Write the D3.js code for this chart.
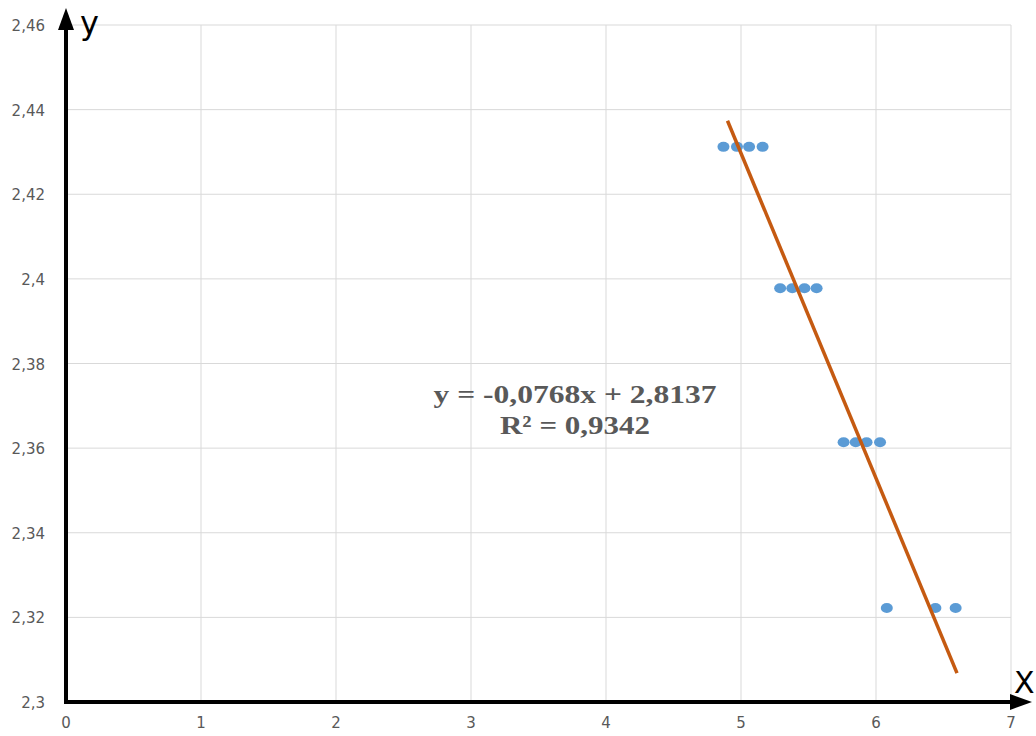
<!DOCTYPE html>
<html><head><meta charset="utf-8">
<script src="https://cdn.jsdelivr.net/npm/d3@7"></script>
<style>body{margin:0;background:#fff}svg{display:block}</style>
</head><body>
<svg id="c" width="1036" height="736"></svg>
<script>
const xVals = [4.87,4.97,5.06,5.16, 5.29,5.38,5.47,5.56, 5.76,5.85,5.93,6.03, 6.08,6.44,6.59];
const yVals = [2.4312,2.4312,2.4312,2.4312, 2.3978,2.3978,2.3978,2.3978, 2.3614,2.3614,2.3614,2.3614, 2.3222,2.3222,2.3222];
const xTicks = [0,1,2,3,4,5,6,7];
const yTicks = [2.3,2.32,2.34,2.36,2.38,2.4,2.42,2.44,2.46];
const slope = -0.0768, intercept = 2.8137;
const trendRange = [4.9, 6.6];
const eqLines = ["y = -0,0768x + 2,8137", "R² = 0,9342"];

const svg = d3.select("#c");
const x = d3.scaleLinear().domain([0,7]).range([66,1011]);
const y = d3.scaleLinear().domain([2.3,2.46]).range([702,25]);
const fmt = v => String(+v.toFixed(2)).replace(".", ",");

// grid
svg.append("g").selectAll("line").data(xTicks.slice(1)).join("line")
  .attr("x1",d=>x(d)).attr("x2",d=>x(d)).attr("y1",y(2.46)).attr("y2",y(2.3))
  .attr("stroke","#d9d9d9").attr("stroke-width",1);
svg.append("g").selectAll("line").data(yTicks.slice(1)).join("line")
  .attr("x1",x(0)).attr("x2",x(7)).attr("y1",d=>y(d)).attr("y2",d=>y(d))
  .attr("stroke","#d9d9d9").attr("stroke-width",1);

// tick labels
svg.append("g").selectAll("text").data(yTicks).join("text")
  .attr("x",45).attr("y",d=>y(d)+6).attr("text-anchor","end")
  .attr("font-family","DejaVu Sans, sans-serif").attr("font-size",15).attr("fill","#595959")
  .text(fmt);
svg.append("g").selectAll("text").data(xTicks).join("text")
  .attr("x",d=>x(d)).attr("y",728).attr("text-anchor","middle")
  .attr("font-family","DejaVu Sans, sans-serif").attr("font-size",15).attr("fill","#595959")
  .text(d=>d);

// points
svg.append("g").selectAll("ellipse").data(xVals.map((v,i)=>[v,yVals[i]])).join("ellipse")
  .attr("cx",d=>x(d[0])).attr("cy",d=>y(d[1])).attr("rx",6).attr("ry",5)
  .attr("fill","#5b9bd5");

// trendline
svg.append("line")
  .attr("x1",x(trendRange[0])).attr("y1",y(slope*trendRange[0]+intercept))
  .attr("x2",x(trendRange[1])).attr("y2",y(slope*trendRange[1]+intercept))
  .attr("stroke","#c55a11").attr("stroke-width",3.5);

// equation
const eqWidths = [283, 150];
svg.append("g").selectAll("text").data(eqLines).join("text")
  .attr("x",(d,i)=>575-eqWidths[i]/2).attr("y",(d,i)=>403+i*31)
  .attr("textLength",(d,i)=>eqWidths[i]).attr("lengthAdjust","spacingAndGlyphs")
  .attr("font-family","Liberation Serif, Times New Roman, serif").attr("font-weight","bold")
  .attr("font-size",26).attr("fill","#595959").text(d=>d);

// axes with arrows
svg.append("line").attr("x1",x(0)).attr("y1",y(2.3)).attr("x2",x(0)).attr("y2",28)
  .attr("stroke","#000").attr("stroke-width",4);
svg.append("path").attr("d",`M${x(0)},8 L${x(0)-8},30 L${x(0)+8},30 Z`).attr("fill","#000");
svg.append("line").attr("x1",x(0)-2).attr("y1",y(2.3)).attr("x2",1012).attr("y2",y(2.3))
  .attr("stroke","#000").attr("stroke-width",4);
svg.append("path").attr("d",`M1032,${y(2.3)} L1010,${y(2.3)-8} L1010,${y(2.3)+8} Z`).attr("fill","#000");

svg.append("text").attr("x",80).attr("y",34).attr("font-family","DejaVu Sans, sans-serif")
  .attr("font-size",32).attr("fill","#000").text("y");
svg.append("text").attr("x",1014).attr("y",693).attr("font-family","DejaVu Sans, sans-serif")
  .attr("font-size",30).attr("fill","#000").text("X");
</script>
</body></html>
